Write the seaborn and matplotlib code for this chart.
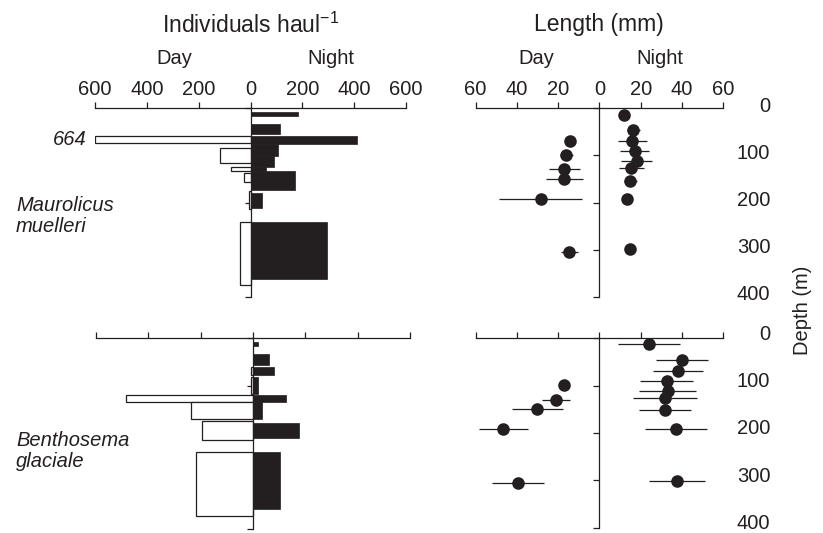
import numpy as np
import matplotlib
matplotlib.use("Agg")
import matplotlib.pyplot as plt
import seaborn as sns

# ---------------- data ----------------
depth_ticks = [0, 100, 200, 300, 400]
count_ticks = [-600, -400, -200, 0, 200, 400, 600]
length_ticks = [-60, -40, -20, 0, 20, 40, 60]

# Maurolicus muelleri - individuals per haul (depth intervals, m)
mm_night_top = [7.5, 34, 59.5, 76.5, 100, 123.5, 133, 180, 240.5]
mm_night_bot = [16, 55, 76.5, 100, 123.5, 133, 172.5, 210, 361]
mm_night_n = [185, 115, 410, 105, 90, 60, 170, 44, 294]
mm_day_top = [59.5, 83, 123.5, 137.5, 174.5, 240.5]
mm_day_bot = [73.5, 115.5, 133, 156.5, 213.5, 373.5]
mm_day_n = [664, 116, 75, 27, 6, 40]

# Benthosema glaciale - individuals per haul
bg_night_top = [8.5, 33, 60, 82, 119.5, 135, 179, 240]
bg_night_bot = [15.5, 55.5, 77, 117, 135, 170, 209, 360]
bg_night_n = [20, 60, 80, 19, 128, 35, 175, 105]
bg_day_top = [60, 82, 119.5, 135, 174, 239]
bg_day_bot = [77, 117, 135, 170, 214, 374]
bg_day_n = [6, 9, 484, 236, 194, 219]

# Maurolicus muelleri - length (mm)
mm_len_night_depth = [14, 46, 70, 91, 112, 127, 154, 193, 298]
mm_len_night = [12, 16.5, 16, 17, 18, 15.5, 15, 13.5, 15]
mm_len_night_err = [0, 3, 7, 7, 7.5, 6, 3, 0, 0]
mm_len_day_depth = [70, 99, 129, 150, 193, 305]
mm_len_day = [14, 16, 17, 17, 28.5, 14.5]
mm_len_day_err = [0, 3, 7.5, 9, 20, 4]

# Benthosema glaciale - length (mm)
bg_len_night_depth = [13, 46, 69, 90, 111, 127, 152, 192, 301]
bg_len_night = [24, 40, 38, 32.5, 33, 32, 32, 37, 37.5]
bg_len_night_err = [15, 12.7, 12.2, 12.6, 13.8, 15.5, 12.6, 15, 13.7]
bg_len_day_depth = [99, 130, 150, 192, 306]
bg_len_day = [17, 21, 30, 46.5, 39.5]
bg_len_day_err = [0, 7, 12.5, 12, 12.5]

# ---------------- style ----------------
sns.set_theme(style="ticks")
plt.rcParams["font.family"] = ["Liberation Sans", "DejaVu Sans"]
plt.rcParams["mathtext.fontset"] = "custom"
plt.rcParams["mathtext.rm"] = "Liberation Sans"
plt.rcParams["mathtext.it"] = "Liberation Sans:italic"
INK = "#231f20"
FS = 14.5

fig = plt.figure(figsize=(8.23, 5.33), dpi=100)
W, H = 823.0, 533.0


def add_axes(x0, x1, y0, y1):
    return fig.add_axes([x0 / W, 1 - y1 / H, (x1 - x0) / W, (y1 - y0) / H])


ax_tl = add_axes(95, 406, 108.3, 297.3)
ax_tr = add_axes(475.5, 723.3, 108.3, 297.0)
ax_bl = add_axes(96, 410, 338.3, 528.5)
ax_br = add_axes(475.5, 723.3, 338.3, 527.5)


def setup(ax, ticks, labels_top, labels_right, lift=0.0):
    ax.set_xlim(ticks[0], ticks[-1])
    ax.set_ylim(400, 0)
    ax.set_facecolor("none")
    ax.grid(False)
    for s in ["right", "bottom"]:
        ax.spines[s].set_visible(False)
    for s in ["left", "top"]:
        ax.spines[s].set_color(INK)
        ax.spines[s].set_linewidth(0.9)
    ax.spines["left"].set_position(("data", 0))
    ax.xaxis.set_ticks_position("top")
    ax.set_xticks(ticks)
    ax.set_xticklabels([str(abs(t)) for t in ticks] if labels_top else [])
    ax.set_yticks(depth_ticks)
    ax.tick_params(axis="x", top=True, bottom=False, labeltop=labels_top,
                   labelbottom=False, direction="out", length=4.5, width=0.9,
                   color=INK, labelsize=FS, labelcolor=INK, pad=2.5)
    ax.tick_params(axis="y", left=True, right=False, labelleft=False,
                   labelright=False, direction="out", length=4.5,
                   width=0.9, color=INK)
    if labels_right:
        for d in depth_ticks:
            ax.annotate(str(d), xy=(1.0, d), xycoords=("axes fraction", "data"),
                        xytext=(33.8, lift), textcoords="offset points",
                        ha="right", va="center", fontsize=FS, color=INK,
                        annotation_clip=False)
    ax.set_xlabel("")
    ax.set_ylabel("")


def draw_counts(ax, n_top, n_bot, n_val, d_top, d_bot, d_val, xmax):
    n_top, n_bot, n_val = map(np.asarray, (n_top, n_bot, n_val))
    d_top, d_bot, d_val = map(np.asarray, (d_top, d_bot, d_val))
    ax.barh(y=(d_top + d_bot) / 2, width=-np.minimum(d_val, xmax),
            height=d_bot - d_top, left=0, color="white", edgecolor=INK,
            linewidth=0.9, zorder=2)
    ax.barh(y=(n_top + n_bot) / 2, width=np.minimum(n_val, xmax),
            height=n_bot - n_top, left=0, color=INK, edgecolor=INK,
            linewidth=0.5, zorder=2)


def draw_lengths(ax, nd, nv, ne, dd, dv, de):
    nv = np.asarray(nv); dv = -np.asarray(dv)
    ax.errorbar(nv, nd, xerr=ne, fmt="none", ecolor=INK, elinewidth=0.9,
                capsize=0, zorder=2)
    ax.errorbar(dv, dd, xerr=de, fmt="none", ecolor=INK, elinewidth=0.9,
                capsize=0, zorder=2)
    sns.scatterplot(x=np.concatenate([nv, dv]), y=np.concatenate([nd, dd]),
                    ax=ax, s=82, color=INK, edgecolor=INK, linewidth=0,
                    zorder=3, legend=False)


draw_counts(ax_tl, mm_night_top, mm_night_bot, mm_night_n,
            mm_day_top, mm_day_bot, mm_day_n, 600)
draw_counts(ax_bl, bg_night_top, bg_night_bot, bg_night_n,
            bg_day_top, bg_day_bot, bg_day_n, 600)
draw_lengths(ax_tr, mm_len_night_depth, mm_len_night, mm_len_night_err,
             mm_len_day_depth, mm_len_day, mm_len_day_err)
draw_lengths(ax_br, bg_len_night_depth, bg_len_night, bg_len_night_err,
             bg_len_day_depth, bg_len_day, bg_len_day_err)

setup(ax_tl, count_ticks, True, False)
setup(ax_bl, count_ticks, False, False)
setup(ax_tr, length_ticks, True, True, lift=1.5)
setup(ax_br, length_ticks, False, True, lift=3.0)

# truncated bar value label
big = int(np.argmax(mm_day_n))
ax_tl.annotate(str(mm_day_n[big]),
               xy=(-600, (mm_day_top[big] + mm_day_bot[big]) / 2),
               xytext=(-6, 0), textcoords="offset points", ha="right",
               va="center", style="italic", fontsize=FS, color=INK)

# headings
def ftext(x, y, s, **kw):
    fig.text(x / W, 1 - y / H, s, color=INK, **kw)

ftext(251, 25, r"Individuals haul$^{-1}$", ha="center", va="center", fontsize=16.5)
ftext(599, 25, "Length (mm)", ha="center", va="center", fontsize=16.5)
ftext(174, 58, "Day", ha="center", va="center", fontsize=FS)
ftext(331, 58, "Night", ha="center", va="center", fontsize=FS)
ftext(536, 58, "Day", ha="center", va="center", fontsize=FS)
ftext(660, 58, "Night", ha="center", va="center", fontsize=FS)
ftext(16, 216, "Maurolicus\nmuelleri", ha="left", va="center", fontsize=FS,
      style="italic", linespacing=1.15)
ftext(16, 451, "Benthosema\nglaciale", ha="left", va="center", fontsize=FS,
      style="italic", linespacing=1.15)
ftext(803, 310, "Depth (m)", ha="center", va="center", fontsize=FS,
      rotation=90)

fig.savefig("out.png", dpi=100)
